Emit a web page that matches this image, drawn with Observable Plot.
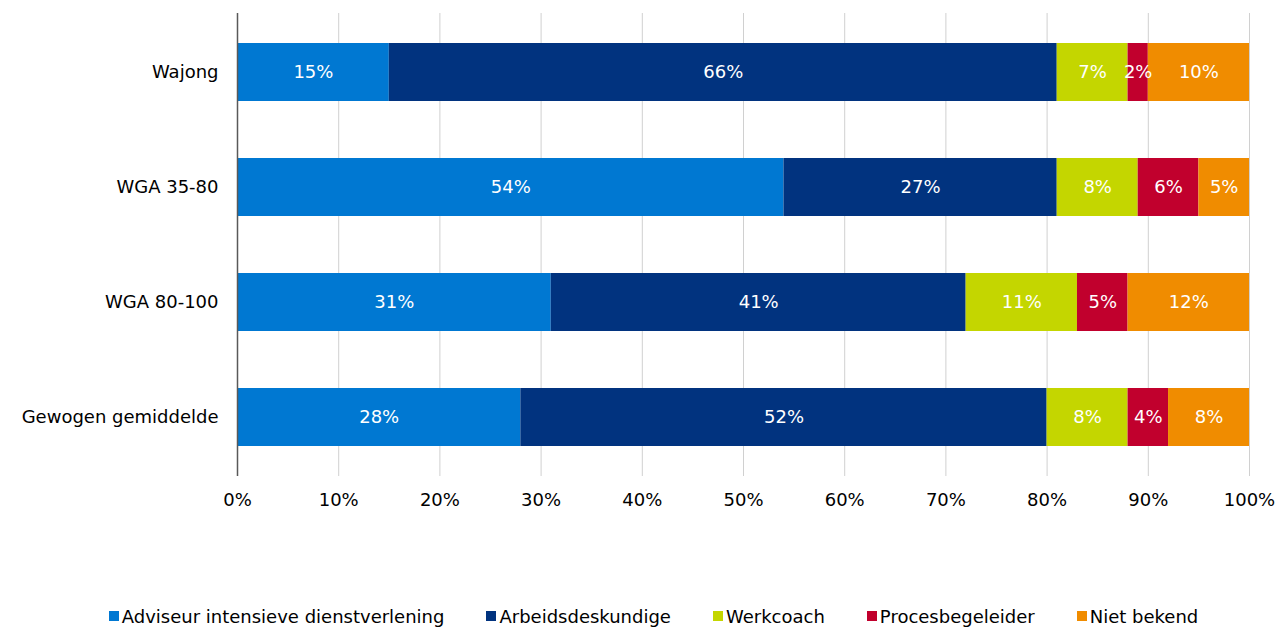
<!DOCTYPE html>
<html>
<head>
<meta charset="utf-8">
<script src="https://cdn.jsdelivr.net/npm/d3@7"></script>
<script src="https://cdn.jsdelivr.net/npm/@observablehq/plot@0.6"></script>
<style>
  html, body { margin: 0; padding: 0; background: #fff; }
  body { width: 1285px; height: 628px; overflow: hidden; font-family: "DejaVu Sans", Verdana, sans-serif; color: #000; }
  #legend { display: flex; justify-content: center; align-items: center; margin-top: 76px; height: 20px; font-size: 18px; padding-left: 22px; }
  .item { display: flex; align-items: center; margin: 0 21px; white-space: nowrap; }
  .sw { width: 10px; height: 10px; margin-right: 3px; }
</style>
</head>
<body>
<div id="chart"></div>
<div id="legend"></div>
<script>
const categories = ["Wajong", "WGA 35-80", "WGA 80-100", "Gewogen gemiddelde"];
const series = ["Adviseur intensieve dienstverlening", "Arbeidsdeskundige", "Werkcoach", "Procesbegeleider", "Niet bekend"];
const colors = ["#0078d2", "#01337f", "#c4d600", "#c1002d", "#f08c00"];
const adviseur = [15, 54, 31, 28];
const arbeidsdeskundige = [66, 27, 41, 52];
const werkcoach = [7, 8, 11, 8];
const procesbegeleider = [2, 6, 5, 4];
const nietBekend = [10, 5, 12, 8];
const xTicks = [0, 10, 20, 30, 40, 50, 60, 70, 80, 90, 100];

const seriesValues = [adviseur, arbeidsdeskundige, werkcoach, procesbegeleider, nietBekend];
const data = [];
categories.forEach((c, i) => {
  series.forEach((s, j) => {
    data.push({category: c, series: s, value: seriesValues[j][i]});
  });
});

const chart = Plot.plot({
  width: 1285,
  height: 530,
  marginLeft: 237,
  marginRight: 36,
  marginTop: 13,
  marginBottom: 54,
  style: {fontFamily: '"DejaVu Sans", Verdana, sans-serif', fontSize: "18px", color: "#000", background: "#fff"},
  x: {domain: [0, 100], ticks: xTicks},
  y: {domain: categories, paddingInner: 0.5, paddingOuter: 0.25},
  color: {domain: series, range: colors},
  marks: [
    Plot.gridX(xTicks, {stroke: "#d0d0d0", strokeOpacity: 1, strokeWidth: 1}),
    Plot.barX(data, {x: "value", y: "category", fill: "series", order: series, insetTop: 0, insetBottom: 0}),
    Plot.text(data, Plot.stackX({x: "value", y: "category", z: "series", order: series, text: d => d.value + "%", fill: "white", fontSize: 18})),
    Plot.ruleX([0], {stroke: "#595959", strokeWidth: 1.5}),
    Plot.axisY({tickSize: 0, tickPadding: 19, fontSize: 18, label: null}),
    Plot.axisX(xTicks, {anchor: "bottom", tickSize: 0, tickPadding: 17, fontSize: 18, label: null, tickFormat: d => d + "%"})
  ]
});
document.getElementById("chart").appendChild(chart);

const legend = document.getElementById("legend");
series.forEach((s, j) => {
  const it = document.createElement("div");
  it.className = "item";
  const sw = document.createElement("div");
  sw.className = "sw";
  sw.style.background = colors[j];
  const t = document.createElement("span");
  t.textContent = s;
  it.appendChild(sw);
  it.appendChild(t);
  legend.appendChild(it);
});
</script>
</body>
</html>
